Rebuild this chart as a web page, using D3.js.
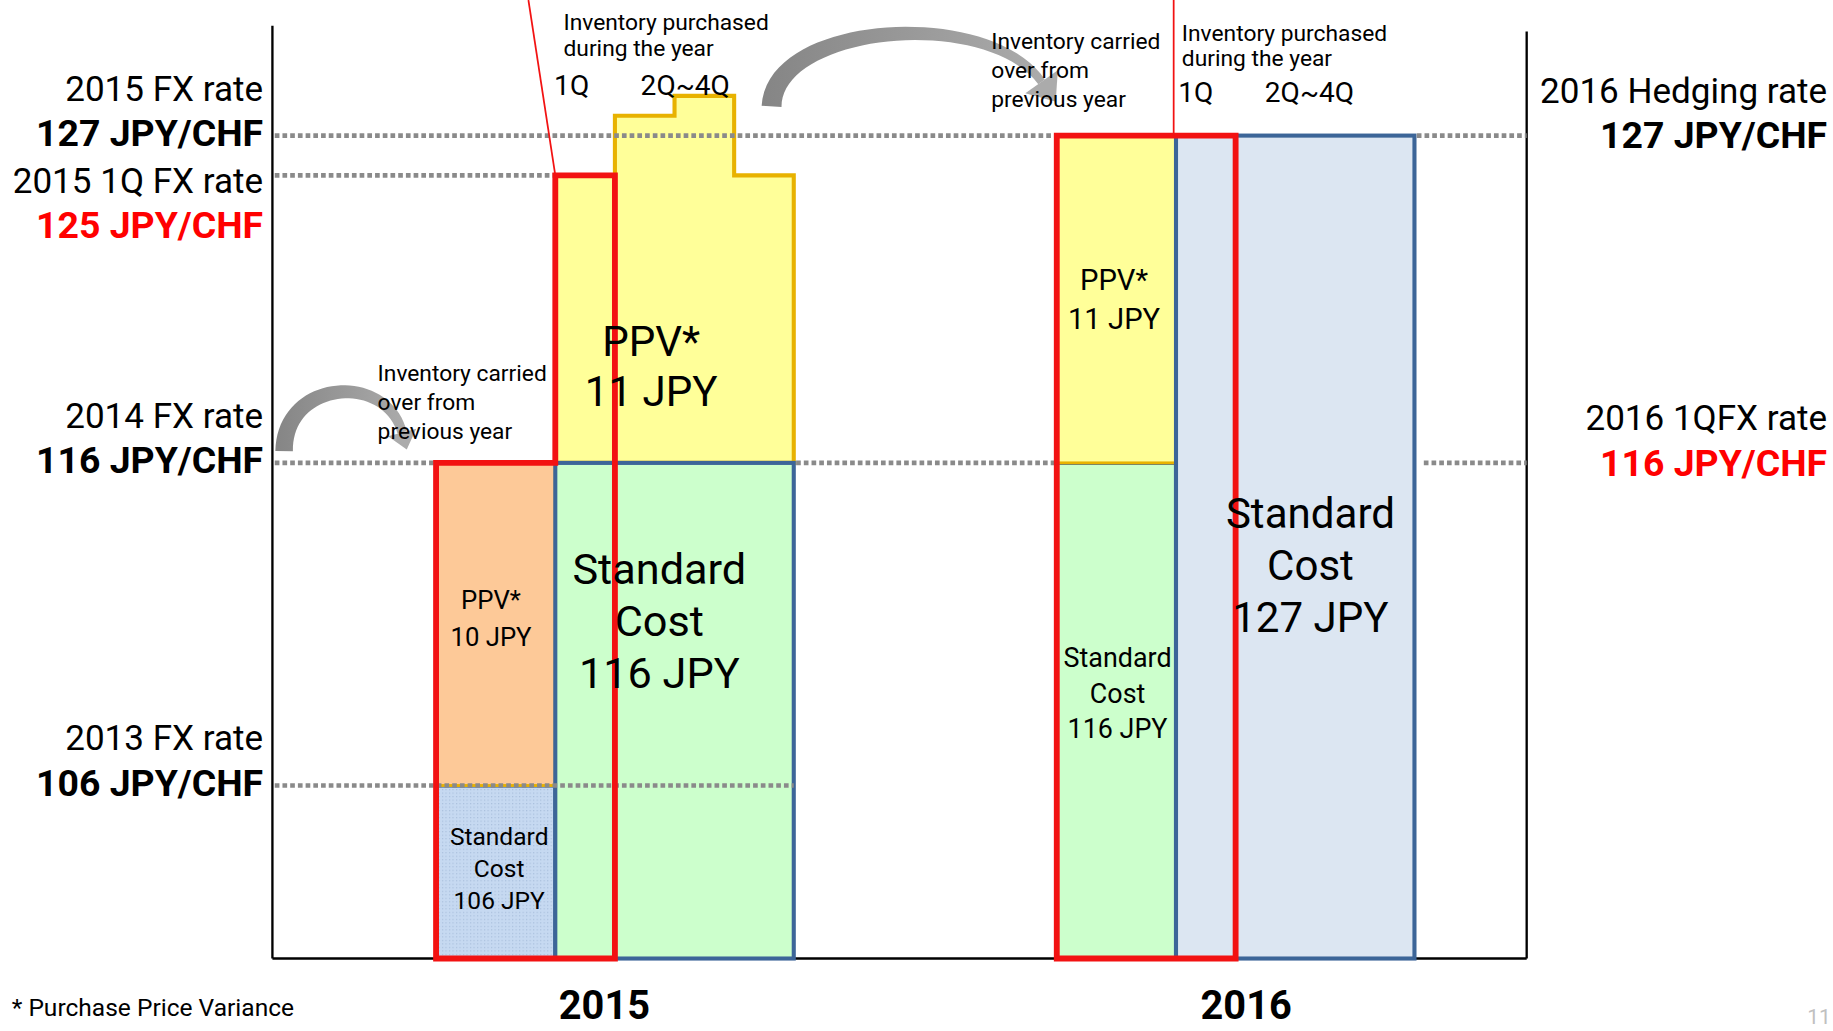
<!DOCTYPE html>
<html>
<head>
<meta charset="utf-8">
<script src="https://cdn.jsdelivr.net/npm/d3@7"></script>
<style>
  body { margin: 0; background: #fff; }
  svg text { font-family: Roboto, 'Liberation Sans', sans-serif; }
</style>
</head>
<body>
<svg id="chart" width="1833" height="1031" viewBox="0 0 1568 882"></svg>
<script>
// ---- data ----
const years = ['2015', '2016'];
// FX rate levels (JPY/CHF) shown as reference lines
const rateLevels = [106, 116, 125, 127];
// quarterly purchase rates 2015 (1Q..4Q)
const quarterRates2015 = [125, 128, 129, 125];
// stacked cost blocks: quarter span (0-2 carried over, 2-6 purchased), low/high rate
const blocks = [
  { id: '2015-std106', year: '2015', q0: 0, q1: 2, lo: 0,   hi: 106, kind: 'stdOld', lines: ['Standard', 'Cost', '106 JPY'] },
  { id: '2015-ppv10',  year: '2015', q0: 0, q1: 2, lo: 106, hi: 116, kind: 'ppvOld', lines: ['PPV*', '10 JPY'] },
  { id: '2015-std116', year: '2015', q0: 2, q1: 6, lo: 0,   hi: 116, kind: 'std',    lines: ['Standard', 'Cost', '116 JPY'] },
  { id: '2016-std116', year: '2016', q0: 0, q1: 2, lo: 0,   hi: 116, kind: 'std',    lines: ['Standard', 'Cost', '116 JPY'] },
  { id: '2016-ppv11',  year: '2016', q0: 0, q1: 2, lo: 116, hi: 127, kind: 'ppv',    lines: ['PPV*', '11 JPY'] },
  { id: '2016-std127', year: '2016', q0: 2, q1: 6, lo: 0,   hi: 127, kind: 'stdNew', lines: ['Standard', 'Cost', '127 JPY'] }
];
const ppv2015Lines = ['PPV*', '11 JPY'];
const leftLabels = [
  { caption: '2015 FX rate',    value: '127 JPY/CHF', rate: 127, red: false },
  { caption: '2015 1Q FX rate', value: '125 JPY/CHF', rate: 125, red: true },
  { caption: '2014 FX rate',    value: '116 JPY/CHF', rate: 116, red: false },
  { caption: '2013 FX rate',    value: '106 JPY/CHF', rate: 106, red: false }
];
const rightLabels = [
  { caption: '2016 Hedging rate', value: '127 JPY/CHF', rate: 127, red: false },
  { caption: '2016 1QFX rate',    value: '116 JPY/CHF', rate: 116, red: true }
];
const purchasedText = ['Inventory purchased', 'during the year'];
const carriedText = ['Inventory carried', 'over from', 'previous year'];
const quarterTicks = ['1Q', '2Q~4Q'];
const footnote = '* Purchase Price Variance';

// ---- colours ----
const C = {
  red: '#f21212', blue: '#3c6598', gold: '#e8b200', grey: '#8a8a8a',
  yellow: '#ffff99', green: '#ccffcc', peach: '#fdc998', paleBlue: '#dce6f2', dotBlue: '#c6d9f1'
};
const fill = { stdOld: 'url(#dots)', ppvOld: C.peach, std: C.green, ppv: C.yellow, stdNew: C.paleBlue };

const svg = d3.select('#chart');

// schematic (piecewise) rate scale
const y = d3.scaleLinear().domain([0, 106, 116, 125, 127]).range([820, 672, 396, 150, 116]);
const xYear = d3.scaleBand().domain(years).range([373, 373 + 2 * 531]);
const xq = d3.scaleLinear().domain([0, 6]).range([0, 306]);
const X = (yr, q) => xYear(yr) + xq(q);

const defs = svg.append('defs');
const pat = defs.append('pattern').attr('id', 'dots').attr('patternUnits', 'userSpaceOnUse')
  .attr('width', 3).attr('height', 3);
pat.append('rect').attr('width', 3).attr('height', 3).attr('fill', C.dotBlue);
pat.append('rect').attr('width', 1).attr('height', 1).attr('fill', '#a9bfdc');
const grad = defs.append('linearGradient').attr('id', 'arrowGrad').attr('x1', 0).attr('x2', 1);
grad.append('stop').attr('offset', '0%').attr('stop-color', '#858585');
grad.append('stop').attr('offset', '100%').attr('stop-color', '#ababab');

// ---- frame ----
const frame = svg.append('g').attr('stroke', '#000').attr('stroke-width', 2);
frame.append('line').attr('x1', 233).attr('x2', 233).attr('y1', 22).attr('y2', y(0));
frame.append('line').attr('x1', 1306).attr('x2', 1306).attr('y1', 27).attr('y2', y(0));
frame.append('line').attr('x1', 233).attr('x2', 1306).attr('y1', y(0)).attr('y2', y(0));

// ---- 2015 purchased PPV (stepped yellow) ----
const steps = [[X('2015', 2), y(116)]];
quarterRates2015.forEach((r, i) => {
  steps.push([X('2015', 2 + i), y(r)]);
  steps.push([X('2015', 3 + i), y(r)]);
});
steps.push([X('2015', 6), y(116)]);
svg.append('path').attr('d', d3.line()(steps) + 'Z')
  .attr('fill', C.yellow).attr('stroke', C.gold).attr('stroke-width', 3.5).attr('stroke-linejoin', 'miter');

// ---- blocks ----
const blockG = svg.append('g');
blockG.selectAll('rect').data(blocks).join('rect')
  .attr('x', d => X(d.year, d.q0))
  .attr('y', d => y(d.hi))
  .attr('width', d => X(d.year, d.q1) - X(d.year, d.q0))
  .attr('height', d => y(d.lo) - y(d.hi))
  .attr('fill', d => fill[d.kind])
  .attr('stroke', d => (d.kind === 'ppv' || d.kind === 'ppvOld') ? C.gold : C.blue)
  .attr('stroke-width', d => (d.kind === 'ppv' || d.kind === 'ppvOld') ? 2.5 : 3.5);

// ---- dotted reference lines ----
const refSegments = [
  { rate: 127, from: 233, to: X('2016', 0) }, { rate: 127, from: X('2016', 6), to: 1306 },
  { rate: 125, from: 233, to: X('2015', 2) },
  { rate: 116, from: 233, to: X('2015', 0) }, { rate: 116, from: X('2015', 6), to: X('2016', 0) },
  { rate: 116, from: X('2016', 6) + 6, to: 1306 },
  { rate: 106, from: 233, to: X('2015', 6) }
];
svg.append('g').selectAll('line').data(refSegments).join('line')
  .attr('x1', d => d.from + 2).attr('x2', d => d.to)
  .attr('y1', d => y(d.rate)).attr('y2', d => y(d.rate))
  .attr('stroke', C.grey).attr('stroke-width', 4).attr('stroke-dasharray', '4 2.6');

// ---- red highlight outlines ----
const red2015 = [
  [X('2015', 0), y(0)], [X('2015', 0), y(116)], [X('2015', 2), y(116)],
  [X('2015', 2), y(125)], [X('2015', 3), y(125)], [X('2015', 3), y(0)]
];
const red2016 = [
  [X('2016', 0), y(0)], [X('2016', 0), y(127)], [X('2016', 3), y(127)], [X('2016', 3), y(0)]
];
svg.append('g').selectAll('path').data([red2015, red2016]).join('path')
  .attr('d', d => d3.line()(d) + 'Z')
  .attr('fill', 'none').attr('stroke', C.red).attr('stroke-width', 5).attr('stroke-linejoin', 'miter');
// thin leader lines
svg.append('line').attr('x1', 452).attr('y1', 0).attr('x2', X('2015', 2)).attr('y2', y(125))
  .attr('stroke', C.red).attr('stroke-width', 1.5);
svg.append('line').attr('x1', X('2016', 2) - 2).attr('y1', 0).attr('x2', X('2016', 2) - 2).attr('y2', y(127))
  .attr('stroke', C.red).attr('stroke-width', 1.5);

// ---- curved arrows ----
function bez(p, t) {
  const u = 1 - t;
  return [0, 1].map(k => u * u * u * p[0][k] + 3 * u * u * t * p[1][k] + 3 * u * t * t * p[2][k] + t * t * t * p[3][k]);
}
function drawArrow(p, w0, w1, headLen, headW) {
  const n = 40, left = [], right = [];
  for (let i = 0; i <= n; i++) {
    const t = i / n, a = bez(p, Math.max(0, t - 0.01)), b = bez(p, Math.min(1, t + 0.01)), c = bez(p, t);
    let dx = b[0] - a[0], dy = b[1] - a[1]; const L = Math.hypot(dx, dy); dx /= L; dy /= L;
    const w = (w0 + (w1 - w0) * t) / 2;
    left.push([c[0] - dy * w, c[1] + dx * w]);
    right.push([c[0] + dy * w, c[1] - dx * w]);
  }
  const end = p[3];
  let dx = p[3][0] - p[2][0], dy = p[3][1] - p[2][1]; const L = Math.hypot(dx, dy); dx /= L; dy /= L;
  const head = [[end[0] - dy * headW / 2, end[1] + dx * headW / 2],
                [end[0] + dx * headLen, end[1] + dy * headLen],
                [end[0] + dy * headW / 2, end[1] - dx * headW / 2]];
  svg.append('path').attr('d', d3.line()(left.concat(right.reverse())) + 'Z').attr('fill', 'url(#arrowGrad)');
  svg.append('path').attr('d', d3.line()(head) + 'Z').attr('fill', '#ababab');
}
drawArrow([[243, 386], [243, 325], [330, 318], [344, 370]], 15, 8, 15, 25);
drawArrow([[660, 91], [662, 20], [845, 5], [891, 70]], 17, 7, 21, 34);

// ---- text helpers ----
function multiline(x, yc, lines, fs, opts = {}) {
  const lh = fs * (opts.lh || 1.28);
  const t = svg.append('text').attr('x', x).attr('font-size', fs)
    .attr('text-anchor', opts.anchor || 'middle').attr('fill', opts.color || '#000')
    .attr('font-weight', opts.bold ? 'bold' : null);
  lines.forEach((s, i) => {
    t.append('tspan').attr('x', x).attr('y', yc - (lines.length - 1) * lh / 2 + i * lh + fs * 0.36).text(s);
  });
  return t;
}

// block labels (size/nudge per block)
const labelLayout = {
  '2015-std106': { fs: 21, dx: 3, dy: -3, lh: 1.3 },
  '2015-ppv10': { fs: 22, dx: -4, dy: -5, lh: 1.45 },
  '2015-std116': { fs: 37, dx: -13, dy: -77, lh: 1.2 },
  '2016-std116': { fs: 23, dx: 1, dy: -15, lh: 1.32 },
  '2016-ppv11': { fs: 25, dx: -2, dy: 0, lh: 1.34 },
  '2016-std127': { fs: 36, dx: 13, dy: 15, lh: 1.23 }
};
blocks.forEach(b => {
  const L = labelLayout[b.id];
  const cx = (X(b.year, b.q0) + X(b.year, b.q1)) / 2 + L.dx;
  const cy = (y(b.lo) + y(b.hi)) / 2 + L.dy;
  multiline(cx, cy, b.lines, L.fs, { lh: L.lh });
});
multiline((X('2015', 2) + X('2015', 6)) / 2 - 20, (y(116) + y(125)) / 2 + 40, ppv2015Lines, 36, { lh: 1.2 });

// rate labels
leftLabels.forEach((d, i) => {
  const below = i === 1;
  const yy = y(d.rate);
  svg.append('text').attr('x', 225).attr('y', below ? yy + 15 : yy - 30).attr('text-anchor', 'end')
    .attr('font-size', 30).text(d.caption);
  svg.append('text').attr('x', 225).attr('y', below ? yy + 54 : yy + 9).attr('text-anchor', 'end')
    .attr('font-size', 32).attr('font-weight', 'bold').attr('fill', d.red ? '#ff0000' : '#000').text(d.value);
});
rightLabels.forEach(d => {
  const yy = y(d.rate);
  svg.append('text').attr('x', 1563).attr('y', yy - 28).attr('text-anchor', 'end')
    .attr('font-size', 30).text(d.caption);
  svg.append('text').attr('x', 1563).attr('y', yy + 11).attr('text-anchor', 'end')
    .attr('font-size', 32).attr('font-weight', 'bold').attr('fill', d.red ? '#ff0000' : '#000').text(d.value);
});

// annotations above the bars
multiline(482, 30, purchasedText, 19.5, { anchor: 'start', lh: 1.15 });
svg.append('text').attr('x', 474).attr('y', 81).attr('font-size', 24).text(quarterTicks[0]);
svg.append('text').attr('x', 548).attr('y', 81).attr('font-size', 24).text(quarterTicks[1]);
multiline(1011, 39, purchasedText, 19.5, { anchor: 'start', lh: 1.1 });
svg.append('text').attr('x', 1008).attr('y', 87).attr('font-size', 24).text(quarterTicks[0]);
svg.append('text').attr('x', 1082).attr('y', 87).attr('font-size', 24).text(quarterTicks[1]);
multiline(323, 344, carriedText, 19.5, { anchor: 'start', lh: 1.27 });
multiline(848, 60, carriedText, 19.5, { anchor: 'start', lh: 1.27 });

// years and footnote
svg.append('g').selectAll('text').data(years).join('text')
  .attr('x', d => xYear(d) + (d === '2015' ? 144 : 162)).attr('y', 872)
  .attr('text-anchor', 'middle').attr('font-size', 34).attr('font-weight', 'bold').text(d => d);
svg.append('text').attr('x', 10).attr('y', 869).attr('font-size', 21).text(footnote);
svg.append('text').attr('x', 1546).attr('y', 876).attr('font-size', 18).attr('fill', '#c0c0c0').text('11');
</script>
</body>
</html>
